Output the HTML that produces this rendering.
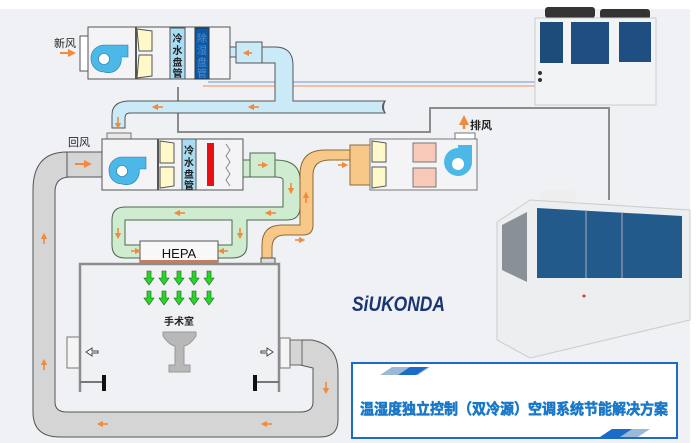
<!DOCTYPE html>
<html><head><meta charset="utf-8"><style>
html,body{margin:0;padding:0;background:#fff;}
svg{display:block;font-family:"Liberation Sans","Noto Sans CJK SC",sans-serif;}
</style></head><body>
<svg width="700" height="443" viewBox="0 0 700 443" xmlns="http://www.w3.org/2000/svg">
<defs>
<marker id="ar" viewBox="0 0 10 10" refX="5" refY="5" markerWidth="4" markerHeight="4" orient="auto"><path d="M0,0L10,5L0,10z" fill="#f08a3c"/></marker>
</defs>
<rect x="0" y="9" width="690" height="434" fill="#f0f1f5"/>

<!-- pipes -->
<line x1="208" y1="82" x2="540" y2="82" stroke="#8aa8d8" stroke-width="1.2"/>
<line x1="203" y1="86" x2="540" y2="86" stroke="#f0a080" stroke-width="1.2"/>
<polyline points="178,87 178,132 430,132 430,108 609,108 609,200" fill="none" stroke="#8c8c8c" stroke-width="2"/>

<!-- gray return duct -->
<path d="M67,152 L102,152 L102,177 L70,177 Q55,177 55,192 L55,402 Q55,412 67,412 L300,412 Q313,412 313,402 L313,368 L300,365 L300,340 L312,340 Q338,345 338,372 L338,420 Q338,437 320,437 L60,437 Q33,437 33,412 L33,190 Q33,152 67,152 Z" fill="#d5d5d5" stroke="#555" stroke-width="1"/>
<rect x="67" y="337" width="13" height="31" fill="#f4f4f4" stroke="#777"/>
<rect x="280" y="338" width="10" height="30" fill="#f4f4f4" stroke="#777"/>
<rect x="290" y="340" width="12" height="25" fill="#d5d5d5" stroke="#666"/>

<!-- fresh air unit -->
<rect x="80" y="36" width="8" height="35" fill="#fff" stroke="#555"/>
<rect x="88" y="27" width="142" height="52" fill="#f4f4f6" stroke="#555"/>
<path d="M104,72 a13,13 0 0 1 -13,-13 a13,13 0 0 1 13,-14 h24 v12 h-7 a13,13 0 0 1 -17,15z" fill="#4cb8e8" stroke="#2a7aa8" stroke-width="0.6"/>
<circle cx="104" cy="59" r="5.5" fill="#fff" stroke="#2a7aa8" stroke-width="0.6"/>
<path d="M137,29 L152,31 L152,51 L139,51Z M139,55 L152,55 L152,76 L137,78Z" fill="#fff8c8" stroke="#555"/>
<line x1="136" y1="27" x2="136" y2="79" stroke="#555" stroke-width="2"/>
<rect x="170" y="28" width="15" height="51" fill="#a8dcf4" stroke="#555"/>
<rect x="195" y="28" width="14" height="51" fill="#0b5aa8" stroke="#333"/>
<text x="177.5" y="42" font-size="10" text-anchor="middle" fill="#222" font-weight="bold">冷</text>
<text x="177.5" y="54" font-size="10" text-anchor="middle" fill="#222" font-weight="bold">水</text>
<text x="177.5" y="66" font-size="10" text-anchor="middle" fill="#222" font-weight="bold">盘</text>
<text x="177.5" y="77" font-size="10" text-anchor="middle" fill="#222" font-weight="bold">管</text>
<text x="202" y="42" font-size="10" text-anchor="middle" fill="#5a8ec8">除</text>
<text x="202" y="54" font-size="10" text-anchor="middle" fill="#5a8ec8">湿</text>
<text x="202" y="66" font-size="10" text-anchor="middle" fill="#5a8ec8">盘</text>
<text x="202" y="77" font-size="10" text-anchor="middle" fill="#5a8ec8">管</text>
<text x="54" y="47" font-size="11" fill="#222">新风</text>
<line x1="60" y1="53" x2="72" y2="53" stroke="#f08a3c" stroke-width="2" marker-end="url(#ar)"/>

<!-- light blue ducts -->
<path d="M230,47 h6 v-5 h26 v5 h13 Q293,47 293,65 L293,101 L385,101 Q380,107 385,113 L130,113 Q125,113 125,118 L125,128 L112,128 L112,115 Q112,101 130,101 L275,101 L275,63 L262,63 L262,57 L236,57 L236,57 L230,57Z" fill="#cbeaf8" stroke="#555" stroke-width="1"/>
<rect x="236" y="42" width="26" height="21" fill="#cbeaf8" stroke="#555"/>
<path d="M385,101 q-3,6 0,12" fill="none" stroke="#555"/>
<rect x="107" y="133" width="24" height="6" fill="#e8e8e8" stroke="#777"/>
<line x1="112" y1="128" x2="125" y2="128" stroke="#555"/>

<!-- return unit -->
<rect x="102" y="139" width="141" height="51" fill="#f4f4f6" stroke="#555"/>
<path d="M122,184 a13,13 0 0 1 -13,-13 a13,13 0 0 1 13,-14 h24 v12 h-7 a13,13 0 0 1 -17,15z" fill="#4cb8e8" stroke="#2a7aa8" stroke-width="0.6"/>
<circle cx="122" cy="171" r="5.5" fill="#fff" stroke="#2a7aa8" stroke-width="0.6"/>
<path d="M160,141 L174,143 L174,163 L160,163Z M160,167 L174,167 L174,186 L160,188Z" fill="#fff8c8" stroke="#555"/>
<line x1="158" y1="139" x2="158" y2="190" stroke="#555" stroke-width="2"/>
<rect x="182" y="139" width="14" height="51" fill="#a8dcf4" stroke="#555"/>
<text x="189" y="154" font-size="10" text-anchor="middle" fill="#222" font-weight="bold">冷</text>
<text x="189" y="166" font-size="10" text-anchor="middle" fill="#222" font-weight="bold">水</text>
<text x="189" y="178" font-size="10" text-anchor="middle" fill="#222" font-weight="bold">盘</text>
<text x="189" y="189" font-size="10" text-anchor="middle" fill="#222" font-weight="bold">管</text>
<rect x="207" y="143" width="7" height="43" fill="#e81010"/>
<path d="M226,144 l4,6 l-4,6 l4,6 l-4,6 l4,6 l-4,6 l4,6" fill="none" stroke="#888"/>
<text x="68" y="146" font-size="11" fill="#222">回风</text>
<rect x="67" y="152" width="35" height="25" fill="#d5d5d5" stroke="#555"/>
<line x1="75" y1="164" x2="88" y2="164" stroke="#f08a3c" stroke-width="2" marker-end="url(#ar)"/>

<!-- green ducts -->
<path d="M243,160 h32 Q300,160 300,180 L300,207 Q300,220 287,220 L247,220 L247,245 Q247,258 232,258 L218,258 L218,245 L232,245 L232,220 L125,220 L125,245 L140,245 L140,258 L125,258 Q112,258 112,245 L112,220 Q112,207 125,207 L283,207 L283,180 Q283,177 275,177 L243,177Z" fill="#d0ecd0" stroke="#4a6a4a" stroke-width="1"/>
<rect x="250" y="153" width="25" height="24" fill="#d0ecd0" stroke="#4a6a4a"/>

<!-- orange duct -->
<path d="M350,160 L330,160 Q313,160 313,175 L313,225 Q313,235 303,235 L285,235 Q272,235 272,248 L272,258 L262,258 L262,245 Q262,225 282,225 L300,225 L300,175 Q300,150 325,150 L350,150Z" fill="#f8c888" stroke="#8a6a3a" stroke-width="1"/>
<rect x="350" y="145" width="20" height="40" fill="#f8c888" stroke="#8a6a3a"/>
<rect x="261" y="258" width="14" height="6" fill="#ddd" stroke="#555"/>

<!-- exhaust unit -->
<rect x="370" y="139" width="107" height="51" fill="#f4f4f6" stroke="#777"/>
<path d="M372,141 L386,143 L386,162 L372,162Z M372,167 L386,167 L386,186 L372,188Z" fill="#fff8c8" stroke="#555"/>
<rect x="413" y="143" width="23" height="19" fill="#f8c8b8" stroke="#777"/>
<rect x="413" y="168" width="23" height="19" fill="#f8c8b8" stroke="#777"/>
<path d="M458,145 h14 v16 a14,14 0 1 1 -14,-13z" fill="#4cb8e8"/>
<circle cx="458" cy="164" r="6" fill="#fff"/>
<rect x="455" y="133" width="20" height="6" fill="#fff" stroke="#777"/>
<line x1="464" y1="129" x2="464" y2="120" stroke="#f08a3c" stroke-width="2.5" marker-end="url(#ar)"/>
<text x="470" y="129" font-size="11" fill="#222" font-weight="bold">排风</text>

<!-- HEPA and room -->
<rect x="140" y="241" width="78" height="22" fill="#f8f8f8" stroke="#555"/>
<rect x="140" y="260" width="78" height="3" fill="#c08060"/>
<text x="179" y="258" font-size="13" text-anchor="middle" fill="#111">HEPA</text>
<polyline points="80,392 80,264 279,264 279,392" fill="none" stroke="#8c8c8c" stroke-width="2.5"/>
<line x1="80" y1="382" x2="104" y2="382" stroke="#777" stroke-width="2"/>
<rect x="102" y="375" width="4" height="16" fill="#111"/>
<line x1="256" y1="382" x2="279" y2="382" stroke="#777" stroke-width="2"/>
<rect x="253" y="375" width="4" height="16" fill="#111"/>
<g fill="#2ad42a" stroke="#186018" stroke-width="0.6">
<path id="ga" d="M147,271 h4 v7 h3 l-5,7 l-5,-7 h3z"/>
<use href="#ga" x="15"/><use href="#ga" x="30"/><use href="#ga" x="45"/><use href="#ga" x="60"/>
<use href="#ga" y="20"/><use href="#ga" x="15" y="20"/><use href="#ga" x="30" y="20"/><use href="#ga" x="45" y="20"/><use href="#ga" x="60" y="20"/>
</g>
<text x="179" y="325" font-size="10" text-anchor="middle" fill="#222" font-weight="bold">手术室</text>
<path d="M163,332 h33 v4 q-6,9 -12,10 v19 h6 v7 h-21 v-7 h6 v-19 q-6,-1 -12,-10z" fill="#b8b8b8" stroke="#999"/>
<path d="M86,352 l6,-4 v3 h6 v2 h-6 v3z" fill="#fff" stroke="#444"/>
<path d="M273,352 l-6,-4 v3 h-6 v2 h6 v3z" fill="#fff" stroke="#444"/>

<!-- small orange arrows -->
<g stroke="#f08a3c" stroke-width="1.6" marker-end="url(#ar)">
<line x1="252" y1="53" x2="246" y2="53"/><line x1="163" y1="107" x2="155" y2="107"/>
<line x1="259" y1="107" x2="251" y2="107"/><line x1="118" y1="117" x2="118" y2="126"/>
<line x1="258" y1="165" x2="265" y2="165"/><line x1="291" y1="183" x2="291" y2="191"/>
<line x1="185" y1="213" x2="177" y2="213"/><line x1="276" y1="213" x2="268" y2="213"/>
<line x1="118" y1="228" x2="118" y2="236"/><line x1="240" y1="228" x2="240" y2="236"/>
<line x1="131" y1="251" x2="138" y2="251"/><line x1="228" y1="251" x2="221" y2="251"/>
<line x1="44" y1="244" x2="44" y2="236"/><line x1="44" y1="370" x2="44" y2="362"/>
<line x1="108" y1="424" x2="100" y2="424"/><line x1="272" y1="424" x2="264" y2="424"/>
<line x1="326" y1="382" x2="326" y2="391"/><line x1="306" y1="203" x2="306" y2="195"/>
<line x1="295" y1="240" x2="302" y2="240"/><line x1="338" y1="165" x2="345" y2="165"/>
</g>

<!-- chillers -->
<rect x="545" y="7" width="50" height="11" rx="3" fill="#333"/>
<rect x="600" y="9" width="50" height="10" rx="3" fill="#333"/>
<rect x="535" y="18" width="121" height="87" fill="#f2f3f4" stroke="#ccc"/>
<rect x="540" y="22" width="23" height="41" fill="#1d4b7a"/>
<rect x="571" y="22" width="38" height="42" fill="#1f4f82"/>
<rect x="619" y="22" width="32" height="40" fill="#1f4f82"/>
<circle cx="540" cy="73" r="2" fill="#333"/><circle cx="540" cy="80" r="2" fill="#333"/>

<rect x="540" y="190" width="36" height="12" rx="6" fill="#eee"/>
<rect x="588" y="203" width="36" height="10" rx="5" fill="#eee"/>
<rect x="622" y="210" width="34" height="10" rx="5" fill="#eee"/>
<path d="M497,222 L530,200 L690,210 L690,320 L530,358 L497,340Z" fill="#eceef0" stroke="#ccc"/>
<path d="M537,208 L682,216 L682,278 L537,278Z" fill="#235a8c"/>
<path d="M502,225 L527,212 L527,282 L502,270Z" fill="#8a9098"/>
<line x1="586" y1="210" x2="586" y2="278" stroke="#aab"/>
<line x1="622" y1="212" x2="622" y2="278" stroke="#aab"/>
<circle cx="584" cy="296" r="1.5" fill="#c33"/>

<!-- logo -->
<text x="352" y="311" font-size="21" font-weight="bold" font-style="italic" fill="#1a3672" textLength="93" lengthAdjust="spacingAndGlyphs">SiUKONDA</text>

<!-- title box -->
<rect x="352" y="363" width="325" height="75" fill="#fff" stroke="#1a6cc8" stroke-width="2"/>
<path d="M380,375 L392,367 L430,367 L418,375Z" fill="#9ab8d8"/>
<path d="M398,375 L410,367 L428,367 L416,375Z" fill="#1a6cc8"/>
<path d="M600,437 L612,429 L650,429 L638,437Z" fill="#9ab8d8"/>
<path d="M600,437 L612,429 L632,429 L620,437Z" fill="#1a6cc8"/>
<text x="514" y="414" font-size="15" font-weight="bold" text-anchor="middle" fill="#1a78c8" stroke="#1a78c8" stroke-width="0.6" textLength="308" lengthAdjust="spacingAndGlyphs">温湿度独立控制（双冷源）空调系统节能解决方案</text>
</svg>
</body></html>
